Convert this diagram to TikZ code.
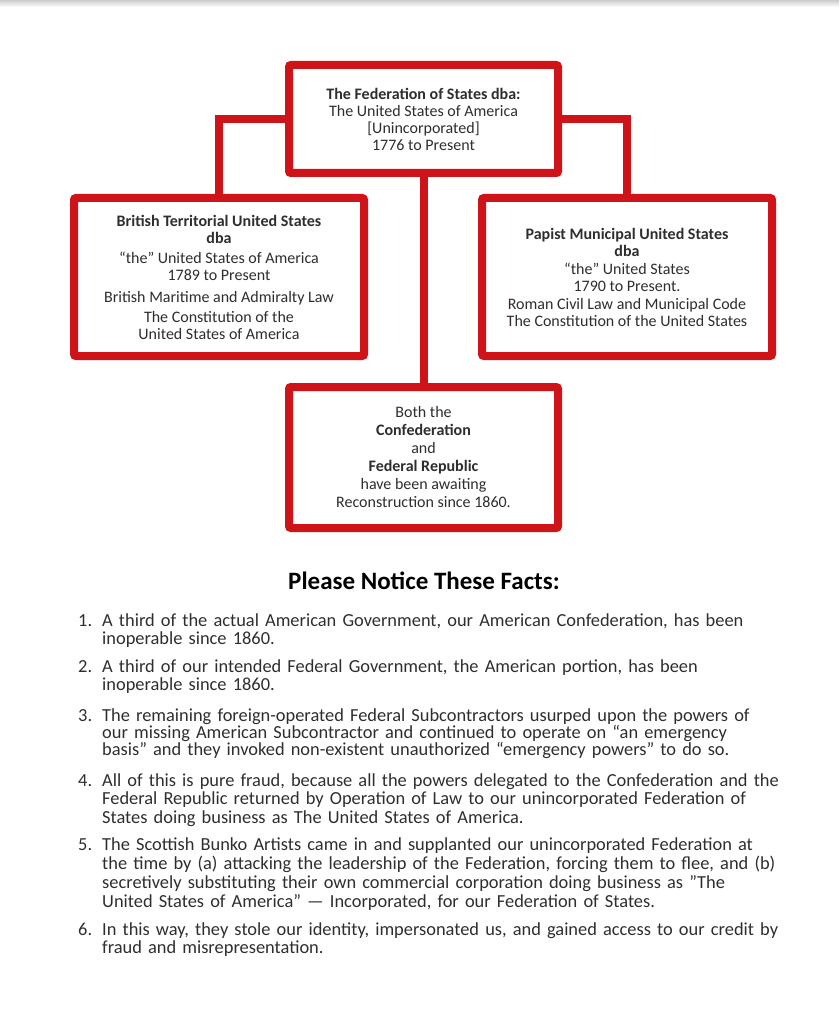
\documentclass[tikz,border=0pt]{standalone}
\usepackage{fontspec}
\setmainfont{Carlito}
\usetikzlibrary{positioning}
\definecolor{boxred}{HTML}{CF1419}
\definecolor{inkgray}{HTML}{2E2E2E}

\begin{document}
\begin{tikzpicture}[x=1pt, y=-1pt,
    box/.style={draw=boxred, line width=8pt, rounded corners=2pt, fill=white,
                align=center, inner sep=0pt, text=inkgray,
                font=\fontsize{16}{17}\selectfont},
    link/.style={draw=boxred, line width=8pt},
    fact/.style={anchor=base west, inner sep=0pt, align=left, text width=720pt,
                 font=\fontsize{18.4}{18.5}\selectfont, text=inkgray},
    num/.style={anchor=base west, inner sep=0pt,
                font=\fontsize{18.4}{18.5}\selectfont, text=inkgray}
]
    \useasboundingbox (0,0) rectangle (839,1024);
    \shade[top color=black!20, bottom color=white] (0,0) rectangle (839,7);

    % the four boxes
    \node[box, minimum width=269pt, minimum height=108pt] (fed) at (423.5,119)
        {\textbf{The Federation of States dba:}\\ The United States of America\\
         {[}Unincorporated{]}\\ 1776 to Present};
    \node[box, minimum width=290pt, minimum height=158pt] (brit) at (219,277)
        {\textbf{British Territorial United States}\\ \textbf{dba}\\[3pt]
         “the” United States of America\\ 1789 to Present\\[5pt]
         British Maritime and Admiralty Law\\[3pt]
         The Constitution of the\\ United States of America};
    \node[box, minimum width=290pt, minimum height=158pt] (papist) at (627,277)
        {\textbf{Papist Municipal United States}\\ \textbf{dba}\\[1pt]
         “the” United States\\ 1790 to Present.\\[1pt]
         Roman Civil Law and Municipal Code\\
         The Constitution of the United States};
    \node[box, minimum width=269pt, minimum height=141pt,
          font=\fontsize{16}{18}\selectfont] (confed) at (423.5,457.5)
        {Both the\\ \textbf{Confederation}\\ and\\ \textbf{Federal Republic}\\
         have been awaiting\\ Reconstruction since 1860.};

    % connectors
    \draw[link] (fed.west) -| (brit.north);
    \draw[link] (fed.east) -| (papist.north);
    \draw[link] (fed.south) -- (confed.north);

    % facts
    \node[font=\bfseries\fontsize{25}{27}\selectfont, text=black] (title) at (424,581)
        {Please Notice These Facts:};

    \node[num] (n1) at (78,626) {1.};
    \node[fact] (f1) at (102,626)
        {A third of the actual American Government, our American Confederation, has been\\
         inoperable since 1860.};
    \node[num] (n2) at (78,672) {2.};
    \node[fact] (f2) at (102,672)
        {A third of our intended Federal Government, the American portion, has been\\
         inoperable since 1860.};
    \node[num] (n3) at (78,721) {3.};
    \node[fact, font=\fontsize{18.4}{17}\selectfont] (f3) at (102,721)
        {The remaining foreign-operated Federal Subcontractors usurped upon the powers of\\
         our missing American Subcontractor and continued to operate on “an emergency\\
         basis” and they invoked non-existent unauthorized “emergency powers” to do so.};
    \node[num] (n4) at (78,786) {4.};
    \node[fact] (f4) at (102,786)
        {All of this is pure fraud, because all the powers delegated to the Confederation and the\\
         Federal Republic returned by Operation of Law to our unincorporated Federation of\\
         States doing business as The United States of America.};
    \node[num] (n5) at (78,850) {5.};
    \node[fact, font=\fontsize{18.4}{19}\selectfont] (f5) at (102,850)
        {The Scottish Bunko Artists came in and supplanted our unincorporated Federation at\\
         the time by (a) attacking the leadership of the Federation, forcing them to flee, and (b)\\
         secretively substituting their own commercial corporation doing business as ”The\\
         United States of America” — Incorporated, for our Federation of States.};
    \node[num] (n6) at (78,935) {6.};
    \node[fact] (f6) at (102,935)
        {In this way, they stole our identity, impersonated us, and gained access to our credit by\\
         fraud and misrepresentation.};
\end{tikzpicture}
\end{document}
